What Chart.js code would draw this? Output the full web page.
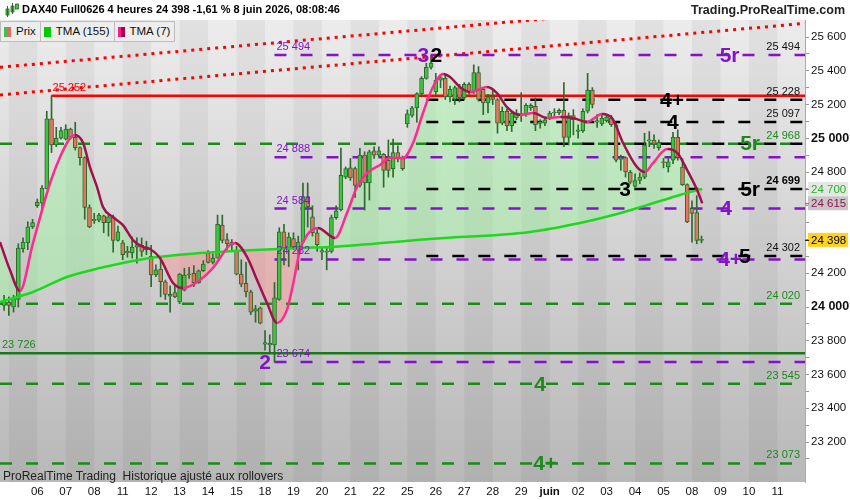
<!DOCTYPE html>
<html>
<head>
<meta charset="utf-8">
<script src="https://cdn.jsdelivr.net/npm/chart.js@4.4.1/dist/chart.umd.min.js"></script>
<style>
  body { margin: 0; background: #fff; font-family: "Liberation Sans", Arial, sans-serif; }
  #wrap { position: relative; width: 850px; height: 500px; overflow: hidden; background: #fff; }
  #chart { position: absolute; left: 0; top: 0; }
  .title { position: absolute; left: 22px; top: 3px; font-size: 11px; font-weight: bold; color: #000; white-space: nowrap; }
  .site { position: absolute; right: 5px; top: 3px; font-size: 12.5px; font-weight: bold; color: #222; white-space: nowrap; }
  .icon { position: absolute; left: 5px; top: 3px; }
  .legend { position: absolute; left: 0; top: 21px; display: flex; }
  .legend div { height: 19px; line-height: 19px; border: 1px solid #bdbdbd; background: #ededed; padding: 0 4px 0 3px; font-size: 11.5px; color: #111; display: flex; align-items: center; margin-right: -1px; }
  .legend i { display: inline-block; width: 7px; height: 10px; margin-right: 5px; }
  .foot { position: absolute; left: 3px; top: 469px; font-size: 12px; color: #222; white-space: nowrap; }
</style>
</head>
<body>
<div id="wrap">
  <canvas id="chart" width="850" height="500"></canvas>
  <svg class="icon" width="14" height="14"><rect x="1" y="6" width="3" height="6" fill="#3ec43e" stroke="#2d6a2d" stroke-width="0.8"/><line x1="2.5" y1="3" x2="2.5" y2="14" stroke="#2d6a2d"/><rect x="6" y="3" width="3" height="6" fill="#3ec43e" stroke="#2d6a2d" stroke-width="0.8"/><line x1="7.5" y1="0" x2="7.5" y2="11" stroke="#2d6a2d"/><rect x="10.5" y="1" width="3" height="5" fill="#3ec43e" stroke="#2d6a2d" stroke-width="0.8"/></svg>
  <div class="title">DAX40 Full0626 4 heures 24 398 -1,61 % 8 juin 2026, 08:08:46</div>
  <div class="site">Trading.ProRealTime.com</div>
  <div class="legend">
    <div><i style="background: linear-gradient(90deg, #4cbb4c 50%, #e06a6a 50%)"></i>Prix</div>
    <div><i style="background: #00cc00"></i>TMA (155)</div>
    <div><i style="background: linear-gradient(90deg, #ff1a8c 50%, #a0004f 50%)"></i>TMA (7)</div>
  </div>
  <div class="foot">ProRealTime Trading&nbsp; Historique ajusté aux rollovers</div>
</div>
<script>
// trading days shown on the bottom axis (index = day number)
const dayLabels = ['05', '06', '07', '08', '11', '12', '13', '14', '15', '18', '19', '20', '21', '22',
  '25', '26', '27', '28', '29', 'juin', '02', '03', '04', '05', '08', '09', '10', '11'];

// 4h bars, six per day, first one is the last bar of the previous day
const opens = [24010,
  24030, 24000, 24045, 24345, 24380, 24475,
  24600, 24615, 24700, 25115, 24960, 25000,
  24995, 25055, 25005, 24945, 24885, 24590,
  24520, 24515, 24540, 24500, 24535, 24395,
  24380, 24330, 24320, 24355, 24365, 24340,
  24300, 24190, 24225, 24150, 24075, 24085,
  24030, 24100, 24190, 24200, 24145, 24215,
  24320, 24265, 24290, 24485, 24400, 24370,
  24335, 24195, 24140, 24090, 23975, 23995,
  23790, 23775, 23775, 24045, 24445, 24350,
  24405, 24355, 24385, 24655, 24535, 24440,
  24335, 24325, 24330, 24530, 24575, 24770,
  24825, 24820, 24720, 24900, 24735, 24925,
  24900, 24905, 24870, 24820, 24915, 24880,
  25085, 25135, 25180, 25265, 25355, 25420,
  25275, 25345, 25355, 25245, 25230, 25300,
  25240, 25320, 25275, 25390, 25290, 25210,
  25245, 25230, 25090, 25160, 25075, 25120,
  25145, 25140, 25180, 25190, 25090, 25090,
  25115, 25150, 25150, 25165, 25005, 25135,
  25040, 25045, 25160, 25285, 25105, 25085,
  25105, 25120, 25080, 24875, 24885, 24800,
  24715, 24750, 24770, 24985, 24990, 24945,
  24860, 24830, 24870, 25005, 24830, 24725,
  24585, 24560, 24395];
const highs = [24070,
  24060, 24070, 24375, 24410, 24505, 24520,
  24640, 24720, 25160, 25252, 25065, 25065,
  25080, 25060, 25095, 24950, 24890, 24605,
  24555, 24555, 24545, 24545, 24545, 24480,
  24395, 24360, 24415, 24410, 24410, 24390,
  24365, 24250, 24285, 24160, 24125, 24130,
  24200, 24230, 24235, 24245, 24220, 24275,
  24335, 24315, 24545, 24545, 24435, 24400,
  24360, 24280, 24265, 24100, 24010, 24000,
  23860, 23835, 24145, 24470, 24490, 24440,
  24440, 24420, 24735, 24735, 24600, 24460,
  24355, 24360, 24545, 24600, 24942, 24830,
  24880, 24830, 24940, 24920, 24930, 24950,
  24950, 24910, 24990, 24995, 24955, 24895,
  25168, 25190, 25270, 25365, 25445, 25480,
  25385, 25380, 25380, 25310, 25310, 25320,
  25330, 25330, 25435, 25425, 25295, 25260,
  25285, 25235, 25185, 25175, 25160, 25170,
  25270, 25205, 25205, 25240, 25110, 25125,
  25160, 25175, 25175, 25330, 25150, 25170,
  25080, 25175, 25385, 25300, 25140, 25140,
  25140, 25135, 25090, 24900, 24890, 24810,
  24790, 24795, 25030, 25040, 25020, 24990,
  24880, 24880, 25035, 25050, 24880, 24730,
  24630, 24660, 24420];
const lows = [23980,
  23950, 23970, 24000, 24325, 24340, 24465,
  24590, 24580, 24700, 24915, 24950, 24995,
  24990, 24995, 24930, 24840, 24520, 24470,
  24495, 24505, 24440, 24420, 24325, 24390,
  24280, 24295, 24290, 24260, 24300, 24310,
  24120, 24180, 24060, 24045, 23970, 24055,
  24020, 24095, 24170, 24120, 24140, 24210,
  24260, 24255, 24290, 24380, 24340, 24330,
  24190, 24120, 24060, 23955, 23910, 23900,
  23745, 23725, 23674, 24040, 24250, 24240,
  24340, 24220, 24380, 24474, 24420, 24330,
  24280, 24220, 24320, 24520, 24570, 24760,
  24750, 24650, 24710, 24575, 24634, 24880,
  24890, 24710, 24770, 24770, 24860, 24810,
  25065, 25125, 25095, 25245, 25350, 25410,
  25260, 25300, 25230, 25215, 25200, 25215,
  25230, 25260, 25265, 25220, 25140, 25150,
  25200, 25030, 25080, 25045, 25040, 25110,
  25100, 25130, 25165, 25045, 25060, 25075,
  25110, 25130, 25140, 24950, 24960, 25020,
  25000, 25035, 25150, 25180, 25065, 25075,
  25095, 25070, 24860, 24810, 24770, 24730,
  24710, 24730, 24760, 24950, 24940, 24930,
  24825, 24800, 24850, 24870, 24720, 24500,
  24385, 24375, 24380];
const closes = [24040,
  24010, 24050, 24350, 24385, 24475, 24500,
  24620, 24705, 25115, 24960, 25000, 25045,
  25055, 25005, 24945, 24885, 24590, 24475,
  24510, 24545, 24500, 24535, 24395, 24445,
  24310, 24320, 24355, 24370, 24330, 24355,
  24190, 24220, 24150, 24075, 24065, 24060,
  24195, 24190, 24195, 24145, 24215, 24255,
  24265, 24290, 24490, 24395, 24375, 24385,
  24195, 24135, 24090, 23970, 23990, 23905,
  23780, 23785, 24055, 24445, 24350, 24415,
  24355, 24385, 24655, 24595, 24440, 24370,
  24325, 24330, 24530, 24570, 24780, 24820,
  24765, 24720, 24900, 24735, 24920, 24900,
  24925, 24810, 24810, 24915, 24880, 24820,
  25145, 25180, 25265, 25355, 25420, 25445,
  25345, 25360, 25245, 25290, 25300, 25240,
  25320, 25275, 25390, 25230, 25210, 25245,
  25230, 25090, 25160, 25075, 25150, 25150,
  25140, 25195, 25195, 25080, 25095, 25110,
  25150, 25155, 25165, 25005, 25135, 25110,
  25050, 25160, 25285, 25200, 25095, 25120,
  25125, 25080, 24870, 24880, 24800, 24740,
  24750, 24770, 24960, 24990, 24965, 24975,
  24855, 24860, 25005, 24885, 24725, 24505,
  24555, 24395, 24398];

// moving averages (x in trading days)
const tma155Days = [-0.31, 0.85, 2.04, 3.20, 4.96, 6.72, 7.88, 10.23, 11.28, 14.80, 18.31, 20.07, 21.23, 22.42, 23.58, 24.36];
const tma155Values = [24030, 24089, 24178, 24231, 24291, 24320, 24332, 24350, 24356, 24403, 24445, 24498, 24545, 24604, 24664, 24700];
const tma7Days = [-0.31, 0.04, 0.39, 0.85, 1.45, 1.80, 2.15, 2.32, 2.61, 2.85, 3.10, 3.31, 3.66, 4.01, 4.36, 4.71, 4.96,
  5.31, 5.77, 6.12, 6.72, 7.17, 7.77, 7.95, 8.37, 8.72, 9.07, 9.42, 9.77, 9.98, 10.23, 10.48, 10.86, 11.46, 11.88,
  12.23, 12.58, 13.04, 13.39, 13.85, 14.20, 14.55, 14.90, 15.26, 15.50, 15.85, 16.20, 16.80, 17.15, 17.50, 17.96,
  18.42, 18.91, 19.37, 19.82, 20.31, 20.84, 21.19, 21.58, 22.07, 22.35, 22.63, 23.13, 23.48, 23.83, 24.18, 24.36];
const tma7Values = [24385, 24219, 24095, 24380, 24735, 24889, 25001, 25019, 24972, 24829, 24711, 24592, 24533, 24485, 24397, 24356, 24344,
  24291, 24142, 24112, 24160, 24231, 24368, 24379, 24296, 24160, 24024, 23906, 23983, 24130, 24338, 24427, 24468, 24409, 24557,
  24711, 24794, 24842, 24883, 24883, 24972, 25150, 25304, 25381, 25363, 25304, 25274, 25304, 25268, 25185, 25138,
  25150, 25120, 25126, 25120, 25097, 25144, 25120, 24972, 24829, 24800, 24853, 24936, 24913, 24812, 24694, 24615];

// levels drawn as horizontal lines
const purpleLevels = [25494, 24888, 24584, 24282, 23674];
const blackLevels = [25228, 25097, 24968, 24699, 24302];
const greenLevels = [24968, 24020, 23545, 23073];
const supportLevel = 23726;
const resistanceLevel = 25252;
// dotted channel, values at the left and right edge
const channelUpper = [25421, 25845];
const channelLower = [25257, 25681];

const FONT = '"Liberation Sans", Arial, sans-serif';
const X_MIN = -0.31;
const X_MAX = 27.97;
const Y_MIN = 22963;
const Y_MAX = 25701;
const PURPLE = '#8412cc';
const GREEN = '#1b8a1b';
const PURPLE_START = 9 + 2 / 6;   // bar of the 23 674 low
const BLACK_START = 14 + 4 / 6;
const RED_START = 1 + 3 / 6;      // bar of the 25 252 high

const barDay = (i) => (i - 1) / 6;
const fmt = (v) => Math.round(v).toString().replace(/\B(?=(\d{3})+(?!\d))/g, ' ');

const levelLine = (value, start, color, dash, width) => ({
  type: 'line',
  data: [{x: start, y: value}, {x: X_MAX, y: value}],
  borderColor: color,
  borderWidth: width || 2.5,
  borderDash: dash,
  pointRadius: 0,
  fill: false,
  order: 4,
});

const datasets = [
  {
    type: 'line',
    label: 'TMA (7)',
    data: tma7Days.map((d, i) => ({x: d, y: tma7Values[i]})),
    borderWidth: 2.5,
    pointRadius: 0,
    cubicInterpolationMode: 'monotone',
    segment: {
      borderColor: (c) => c.p1.parsed.y >= c.p0.parsed.y ? '#ff2a8f' : '#a3104f',
    },
    fill: {target: 1, above: 'rgba(150,250,150,0.4)', below: 'rgba(255,140,140,0.42)'},
    order: 0,
  },
  {
    type: 'line',
    label: 'TMA (155)',
    data: tma155Days.map((d, i) => ({x: d, y: tma155Values[i]})),
    borderColor: '#1ed81e',
    borderWidth: 2.5,
    pointRadius: 0,
    cubicInterpolationMode: 'monotone',
    fill: false,
    order: 1,
  },
  {
    type: 'bar',
    label: 'corps',
    data: opens.map((o, i) => ({x: barDay(i), y: [o, closes[i]]})),
    backgroundColor: (c) => closes[c.dataIndex] >= opens[c.dataIndex] ? '#3ec43e' : '#e8735e',
    borderColor: '#2d6a2d',
    borderWidth: 1,
    borderSkipped: false,
    barThickness: 4,
    minBarLength: 1,
    grouped: false,
    order: 2,
  },
  {
    type: 'bar',
    label: 'mèches',
    data: lows.map((l, i) => ({x: barDay(i), y: [l, highs[i]]})),
    backgroundColor: '#2d6a2d',
    barThickness: 1,
    grouped: false,
    order: 3,
  },
];

purpleLevels.forEach((v) => datasets.push(levelLine(v, PURPLE_START, PURPLE, [12, 14])));
blackLevels.forEach((v) => datasets.push(levelLine(v, BLACK_START, '#000', [12, 14])));
greenLevels.forEach((v) => datasets.push(levelLine(v, X_MIN, GREEN, [12, 14])));
datasets.push(levelLine(supportLevel, X_MIN, '#1a7a1a', [], 2.5));
datasets.push(levelLine(resistanceLevel, RED_START, '#ff0000', [], 2.5));
[channelUpper, channelLower].forEach((ch) => {
  datasets.push({
    type: 'line',
    data: [{x: X_MIN, y: ch[0]}, {x: X_MAX, y: ch[1]}],
    borderColor: '#ff0000',
    borderWidth: 3,
    borderDash: [3, 5],
    pointRadius: 0,
    fill: false,
    order: 5,
  });
});

// grey gradient with one band per trading day
const backdrop = {
  id: 'backdrop',
  beforeDraw(chart) {
    const {ctx, chartArea: a, scales: {x}} = chart;
    ctx.save();
    const g = ctx.createLinearGradient(0, a.top, 0, a.bottom);
    g.addColorStop(0, '#ececec');
    g.addColorStop(1, '#b8b8b8');
    ctx.fillStyle = g;
    ctx.fillRect(a.left, a.top, a.width, a.height);
    ctx.fillStyle = 'rgba(0,0,0,0.045)';
    for (let d = 0; d < dayLabels.length; d += 2) {
      const x0 = Math.max(a.left, x.getPixelForValue(d));
      const x1 = Math.min(a.right, x.getPixelForValue(d + 1));
      if (x1 > x0) ctx.fillRect(x0, a.top, x1 - x0, a.height);
    }
    ctx.restore();
  },
};

// level values and wave counts
const waveTags = [
  ['5r', 25.32, 25494, PURPLE], ['3', 14.56, 25494, PURPLE], ['2', 15.02, 25494, '#000'],
  ['4+', 23.30, 25228, '#000'], ['4', 23.33, 25097, '#000'], ['5r', 26.04, 24968, GREEN],
  ['3', 21.65, 24699, '#000'], ['5r', 26.04, 24699, '#000'], ['4', 25.20, 24584, PURPLE],
  ['5', 25.86, 24302, '#000'], ['4+', 25.34, 24282, PURPLE], ['2', 9.00, 23674, PURPLE],
  ['4', 18.66, 23545, GREEN], ['4+', 18.84, 23073, GREEN],
];

const levelText = {
  id: 'levelText',
  afterDatasetsDraw(chart) {
    const {ctx, chartArea: a, scales: {x, y}} = chart;
    ctx.save();
    ctx.beginPath();
    ctx.rect(a.left, a.top, a.width, a.height);
    ctx.clip();
    ctx.textBaseline = 'middle';
    ctx.font = '11px ' + FONT;
    ctx.textAlign = 'left';
    ctx.fillStyle = PURPLE;
    purpleLevels.forEach((v) => ctx.fillText(fmt(v), x.getPixelForValue(PURPLE_START) + 2, y.getPixelForValue(v) - 8));
    ctx.fillStyle = '#ff0000';
    ctx.fillText(fmt(resistanceLevel), x.getPixelForValue(RED_START) + 1, y.getPixelForValue(resistanceLevel) - 8);
    ctx.fillStyle = GREEN;
    ctx.fillText(fmt(supportLevel), a.left + 2, y.getPixelForValue(supportLevel) - 8);

    ctx.textAlign = 'right';
    const right = [[purpleLevels[0], '#111'], [blackLevels[0], '#111'], [blackLevels[1], '#111'],
      [greenLevels[0], GREEN], [blackLevels[3], '#000', true], [blackLevels[4], '#111'],
      [greenLevels[1], GREEN], [greenLevels[2], GREEN], [greenLevels[3], GREEN]];
    right.forEach(([v, col, bold]) => {
      ctx.font = (bold ? 'bold ' : '') + '11px ' + FONT;
      ctx.fillStyle = col;
      ctx.fillText(fmt(v), a.right - 5, y.getPixelForValue(v) - 8);
    });

    ctx.textAlign = 'center';
    ctx.font = 'bold 21px ' + FONT;
    waveTags.forEach(([t, d, v, col]) => {
      ctx.fillStyle = col;
      ctx.fillText(t, x.getPixelForValue(d), y.getPixelForValue(v) + 1);
    });
    ctx.restore();
  },
  afterDraw(chart) {
    const {ctx, chartArea: a, scales: {y}} = chart;
    const tags = [
      [tma155Values[tma155Values.length - 1], '#e6e6e6', '#22b422', '#22b422'],
      [tma7Values[tma7Values.length - 1], '#c6c6c6', '#9a1050', '#c0306a'],
      [closes[closes.length - 1], '#ffd21f', '#000', '#000'],
    ];
    ctx.save();
    ctx.font = '11.5px ' + FONT;
    ctx.textBaseline = 'middle';
    ctx.textAlign = 'left';
    tags.forEach(([v, bg, fg, mark]) => {
      const py = y.getPixelForValue(v);
      ctx.fillStyle = bg;
      ctx.fillRect(a.right + 3, py - 7, 40, 14);
      ctx.strokeStyle = mark;
      ctx.lineWidth = 1;
      ctx.beginPath();
      ctx.moveTo(a.right, py + 0.5);
      ctx.lineTo(a.right + 4, py + 0.5);
      ctx.stroke();
      ctx.fillStyle = fg;
      ctx.fillText(fmt(v), a.right + 6, py + 0.5);
    });
    ctx.restore();
  },
};

new Chart(document.getElementById('chart'), {
  type: 'line',
  data: {datasets},
  options: {
    responsive: false,
    animation: false,
    layout: {padding: {top: 20, left: 0, right: 0, bottom: 0}},
    plugins: {
      legend: {display: false},
      tooltip: {enabled: false},
      filler: {drawTime: 'beforeDatasetsDraw'},
    },
    scales: {
      x: {
        type: 'linear',
        min: X_MIN,
        max: X_MAX,
        offset: false,
        afterBuildTicks: (s) => { s.ticks = dayLabels.map((_, i) => ({value: i})); },
        afterFit: (s) => { s.height = 18; },
        grid: {display: false, drawTicks: false},
        border: {display: false},
        ticks: {
          autoSkip: false,
          maxRotation: 0,
          padding: 3,
          color: '#111',
          font: (c) => ({family: FONT, size: 11.5, weight: dayLabels[c.index] === 'juin' ? 'bold' : 'normal'}),
          callback: (v, i) => (i === 0 ? '' : dayLabels[i]),
        },
      },
      y: {
        position: 'right',
        min: Y_MIN,
        max: Y_MAX,
        afterBuildTicks: (s) => { s.ticks = s.ticks.filter((t) => t.value % 100 === 0); },
        afterFit: (s) => { s.width = 45; },
        grid: {drawOnChartArea: false, tickLength: 4, color: '#999'},
        border: {display: true, color: '#aaa'},
        ticks: {
          stepSize: 100,
          padding: 2,
          color: '#111',
          font: (c) => (c.tick && c.tick.value % 1000 === 0
            ? {family: FONT, size: 12.5, weight: 'bold'}
            : {family: FONT, size: 11.5}),
          callback: (v) => (v % 200 === 0 ? fmt(v) : ''),
        },
      },
    },
  },
  plugins: [backdrop, levelText],
});
</script>
</body>
</html>
